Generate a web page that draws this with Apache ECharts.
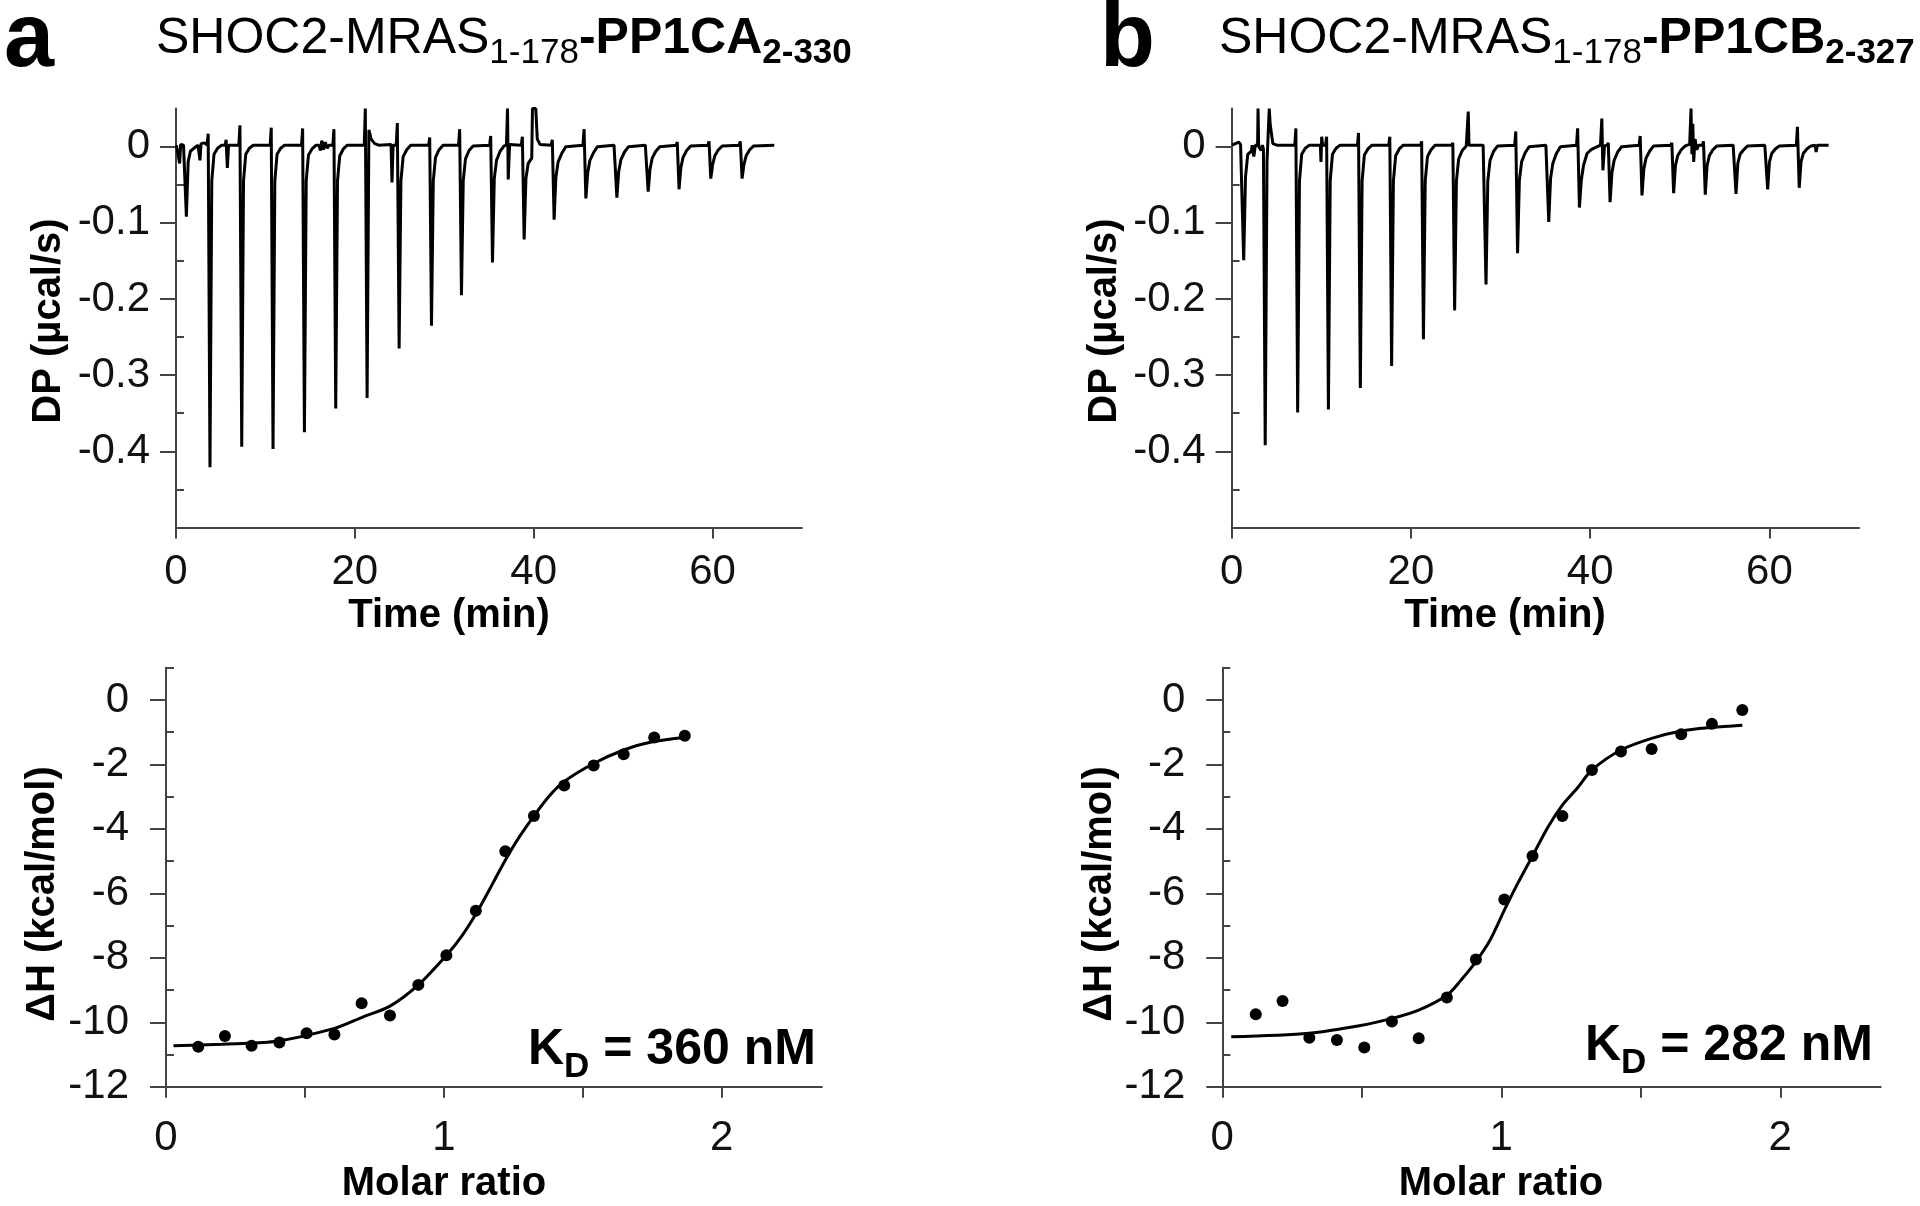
<!DOCTYPE html>
<html>
<head>
<meta charset="utf-8">
<script src="https://cdn.jsdelivr.net/npm/echarts@6/dist/echarts.min.js"></script>
<style>
html, body { margin: 0; padding: 0; background: #fff; }
#main { width: 1920px; height: 1206px; }
</style>
</head>
<body>
<div id="main"></div>
<script>
// ---- thermogram (DP vs time), panel a ----
var injTimeA = [1.16, 3.8, 7.35, 10.85, 14.36, 17.86, 21.37, 24.95, 28.57, 31.92, 35.39, 38.93, 42.28, 45.83, 49.3, 52.8, 56.25, 59.8, 63.3];
var injMinA = [-0.092, -0.421, -0.394, -0.397, -0.375, -0.344, -0.330, -0.265, -0.235, -0.195, -0.152, -0.122, -0.096, -0.068, -0.067, -0.059, -0.056, -0.042, -0.042];
var preSpikeA = [0.004, 0.017, 0.028, 0.025, 0.024, 0.023, 0.05, 0.031, 0.012, 0.023, 0.014, 0.013, 0.009, 0.023, 0.004, 0.004, 0.006, 0.007, 0.007];
// recovery after each dip, read at +0.2, +0.45, +0.85, +1.3 min
var recoveryA = [
  [-0.02, -0.006, -0.002, 0.002], [-0.045, -0.01, -0.002, 0.002], [-0.045, -0.01, -0.002, 0.002],
  [-0.045, -0.01, -0.002, 0.002], [-0.045, -0.011, -0.003, 0.002], [-0.045, -0.012, -0.003, 0.002],
  [0.022, 0.01, 0.004, 0.002], [-0.045, -0.013, -0.004, 0.002], [-0.045, -0.014, -0.004, 0.002],
  [-0.045, -0.016, -0.005, 0.001], [-0.042, -0.018, -0.006, 0.001], [-0.042, -0.022, -0.015, 0.05],
  [-0.04, -0.02, -0.009, 0.0], [-0.035, -0.018, -0.008, 0.0], [-0.033, -0.017, -0.007, 0.0],
  [-0.03, -0.015, -0.006, 0.0], [-0.028, -0.014, -0.005, 0.001], [-0.024, -0.012, -0.004, 0.001],
  [-0.024, -0.012, -0.004, 0.001]
];
// small artefacts / noise spikes between injections
var noiseA = [
  [0.41, -0.022], [0.52, 0.003], [0.7, 0.004],
  [2.55, 0.002], [2.68, -0.018], [2.8, 0.004], [3.2, 0.005],
  [5.5, 0.002], [5.6, 0.009], [5.74, -0.028], [5.88, 0.002],
  [16.0, 0.002], [16.15, -0.005], [16.3, 0.008], [16.5, -0.004], [16.7, 0.006], [16.9, -0.002], [17.1, 0.002],
  [24.05, 0.003], [24.15, -0.047], [24.28, 0.002],
  [36.95, 0.002], [37.07, 0.05], [37.15, -0.043], [37.3, 0.003],
  [39.86, 0.05], [40.4, 0.01], [40.7, 0.003]
];
var endTimeA = 66.9;

// ---- thermogram, panel b ----
var injTimeB = [1.35, 3.75, 7.37, 10.8, 14.36, 17.85, 21.4, 24.88, 28.38, 31.9, 35.38, 38.8, 42.22, 45.78, 49.31, 52.84, 56.27, 59.8, 63.32];
var injMinB = [-0.149, -0.392, -0.349, -0.345, -0.317, -0.288, -0.253, -0.215, -0.181, -0.14, -0.099, -0.08, -0.073, -0.064, -0.061, -0.063, -0.062, -0.056, -0.054];
var preSpikeB = [0.004, -0.003, 0.024, 0.013, 0.018, 0.013, 0.007, 0.005, 0.004, 0.02, 0.004, 0.024, 0.005, 0.014, 0.005, 0.007, 0.004, 0.004, 0.026];
var recoveryB = [
  [-0.04, -0.01, -0.006, 0.002], [-0.02, 0.05, 0.004, 0.002], [-0.045, -0.01, -0.002, 0.002],
  [-0.045, -0.01, -0.002, 0.002], [-0.045, -0.011, -0.003, 0.002], [-0.045, -0.012, -0.003, 0.002],
  [-0.045, -0.013, -0.004, 0.002], [-0.045, -0.016, -0.005, 0.001], [-0.045, -0.018, -0.006, 0.001],
  [-0.045, -0.02, -0.008, 0.0], [-0.042, -0.022, -0.009, 0.0], [-0.045, -0.025, -0.009, -0.004],
  [-0.035, -0.018, -0.007, 0.0], [-0.03, -0.015, -0.006, 0.001], [-0.025, -0.012, -0.004, 0.001],
  [-0.025, -0.012, -0.004, 0.001], [-0.022, -0.01, -0.004, 0.001], [-0.02, -0.009, -0.003, 0.001],
  [-0.02, -0.009, -0.003, 0.001]
];
var noiseB = [
  [0.8, 0.006], [1.0, 0.003],
  [2.3, 0.002], [2.48, -0.013], [2.9, 0.002], [2.95, 0.05], [3.02, 0.0], [3.3, -0.005], [3.45, 0.002],
  [4.3, 0.03],
  [9.9, 0.002], [9.97, -0.02], [10.05, 0.013], [10.15, 0.002],
  [26.3, 0.002], [26.4, 0.046], [26.48, 0.002],
  [41.15, 0.002], [41.3, 0.037], [41.42, -0.031], [41.6, 0.001],
  [51.1, 0.003], [51.25, 0.05], [51.35, -0.01], [51.45, 0.03], [51.55, -0.02], [51.7, 0.01], [51.9, -0.004], [52.1, 0.002],
  [65.1, 0.002], [65.2, -0.007], [65.35, 0.002]
];
var endTimeB = 66.6;
var baseline = 0.002;

// ---- integrated heats ----
var ratioA = [0.116, 0.212, 0.308, 0.408, 0.506, 0.606, 0.704, 0.806, 0.908, 1.009, 1.115, 1.221, 1.324, 1.433, 1.539, 1.647, 1.757, 1.867];
var heatA = [-10.76, -10.43, -10.73, -10.63, -10.34, -10.38, -9.41, -9.79, -8.84, -7.92, -6.54, -4.69, -3.60, -2.65, -2.03, -1.68, -1.16, -1.11];
var fitRatioA = [0.027, 0.2, 0.389, 0.606, 0.71, 0.806, 0.908, 1.009, 1.063, 1.12, 1.176, 1.221, 1.272, 1.324, 1.377, 1.433, 1.539, 1.647, 1.754, 1.867];
var fitHeatA = [-10.73, -10.68, -10.6, -10.19, -9.83, -9.5, -8.84, -7.92, -7.34, -6.57, -5.69, -4.97, -4.24, -3.6, -3.0, -2.53, -1.97, -1.55, -1.29, -1.16];

var ratioB = [0.12, 0.216, 0.312, 0.411, 0.509, 0.608, 0.704, 0.805, 0.909, 1.011, 1.112, 1.219, 1.325, 1.429, 1.539, 1.645, 1.755, 1.864];
var heatB = [-9.75, -9.34, -10.48, -10.55, -10.78, -9.98, -10.5, -9.23, -8.05, -6.19, -4.84, -3.6, -2.17, -1.6, -1.52, -1.06, -0.74, -0.31];
var fitRatioB = [0.032, 0.312, 0.496, 0.608, 0.704, 0.805, 0.856, 0.909, 0.96, 1.011, 1.059, 1.112, 1.168, 1.219, 1.272, 1.325, 1.429, 1.539, 1.645, 1.755, 1.864];
var fitHeatB = [-10.45, -10.34, -10.1, -9.88, -9.62, -9.16, -8.69, -8.12, -7.45, -6.52, -5.69, -4.84, -3.93, -3.26, -2.74, -2.17, -1.55, -1.19, -0.96, -0.85, -0.78];

// ---- ticks ----
var timeTicks = [0, 20, 40, 60];
var dpTicks = [0, -0.1, -0.2, -0.3, -0.4];
var dpMinorTicks = [-0.05, -0.15, -0.25, -0.35, -0.45];
var ratioTicks = [0, 0.5, 1, 1.5, 2];
var ratioLabels = [0, 1, 2];
var heatTicks = [0, -2, -4, -6, -8, -10, -12];
var heatMinorTicks = [1, -1, -3, -5, -7, -9, -11];

var FONT = '"Liberation Sans", Arial, Helvetica, sans-serif';
var axisColor = '#444';
var tickFont = 42;

function buildTrace(times, mins, pre, rec, noise, tEnd) {
  var pts = [[0.05, baseline]];
  for (var i = 0; i < times.length; i++) {
    var t = times[i];
    pts.push([t - 0.32, baseline], [t - 0.2, pre[i]], [t, mins[i]],
      [t + 0.2, rec[i][0]], [t + 0.45, rec[i][1]], [t + 0.85, rec[i][2]], [t + 1.3, rec[i][3]]);
  }
  pts = pts.concat(noise);
  pts.push([tEnd, baseline]);
  pts.sort(function (a, b) { return a[0] - b[0]; });
  return pts;
}

function zip(xs, ys) {
  return xs.map(function (x, i) { return [x, ys[i]]; });
}

function xAxis(gi, max, ticks, labels, margin) {
  return {
    type: 'value', gridIndex: gi, min: 0, max: max,
    axisLine: { onZero: false, lineStyle: { color: axisColor, width: 2 } },
    axisTick: { customValues: ticks, length: 11, lineStyle: { color: axisColor, width: 2 } },
    axisLabel: { customValues: labels, margin: margin, fontSize: tickFont, color: '#111', fontFamily: FONT },
    splitLine: { show: false }
  };
}

function yAxis(gi, min, max, ticks, margin) {
  return {
    type: 'value', gridIndex: gi, min: min, max: max,
    axisLine: { show: true, onZero: false, lineStyle: { color: axisColor, width: 2 } },
    axisTick: { customValues: ticks, length: 16, lineStyle: { color: axisColor, width: 2 } },
    axisLabel: {
      customValues: ticks, margin: margin, fontSize: tickFont, color: '#111', fontFamily: FONT,
      formatter: function (v) { return String(v); }
    },
    splitLine: { show: false }
  };
}

function yMinor(gi, min, max, ticks) {
  return {
    type: 'value', gridIndex: gi, min: min, max: max,
    axisLine: { show: false },
    axisTick: { customValues: ticks, length: 8, lineStyle: { color: axisColor, width: 2 } },
    axisLabel: { show: false },
    splitLine: { show: false }
  };
}

var measure = document.createElement('canvas').getContext('2d');
function textRun(parts, x) {
  var out = [];
  parts.forEach(function (p) {
    measure.font = p.font;
    out.push({
      type: 'text', x: x, y: p.y,
      style: { text: p.text, font: p.font, fill: '#000', textAlign: 'left', textVerticalAlign: 'middle' }
    });
    x += measure.measureText(p.text).width;
  });
  return out;
}

function label(text, x, y, size, rotate) {
  return {
    type: 'text', x: x, y: y, rotation: rotate ? Math.PI / 2 : 0,
    style: { text: text, font: 'bold ' + size + 'px ' + FONT, fill: '#000', textAlign: 'center', textVerticalAlign: 'middle' }
  };
}

var reg = function (s) { return s + 'px ' + FONT; };
var bold = function (s) { return 'bold ' + s + 'px ' + FONT; };

var graphics = []
  .concat([
    { type: 'text', x: 4, y: 41, style: { text: 'a', font: bold(90), fill: '#000', textVerticalAlign: 'middle' } },
    { type: 'text', x: 1100, y: 41, style: { text: 'b', font: bold(90), fill: '#000', textVerticalAlign: 'middle' } }
  ])
  .concat(textRun([
    { text: 'SHOC2-MRAS', font: reg(50), y: 39 },
    { text: '1-178', font: reg(35), y: 53 },
    { text: '-PP1CA', font: bold(50), y: 39 },
    { text: '2-330', font: bold(35), y: 53 }
  ], 156))
  .concat(textRun([
    { text: 'SHOC2-MRAS', font: reg(50), y: 39 },
    { text: '1-178', font: reg(35), y: 53 },
    { text: '-PP1CB', font: bold(50), y: 39 },
    { text: '2-327', font: bold(35), y: 53 }
  ], 1219))
  .concat([
    label('DP (µcal/s)', 49, 321, 40, true),
    label('DP (µcal/s)', 1105, 321, 40, true),
    label('Time (min)', 449, 616, 40),
    label('Time (min)', 1505, 616, 40),
    label('ΔH (kcal/mol)', 43, 894, 40, true),
    label('ΔH (kcal/mol)', 1100, 894, 40, true),
    label('Molar ratio', 444, 1184, 40),
    label('Molar ratio', 1501, 1184, 40)
  ])
  .concat(textRun([
    { text: 'K', font: bold(50), y: 1050 },
    { text: 'D', font: bold(35), y: 1067 },
    { text: ' = 360 nM', font: bold(50), y: 1050 }
  ], 528))
  .concat(textRun([
    { text: 'K', font: bold(50), y: 1046 },
    { text: 'D', font: bold(35), y: 1063 },
    { text: ' = 282 nM', font: bold(50), y: 1046 }
  ], 1585));

var chart = echarts.init(document.getElementById('main'), null, { renderer: 'canvas' });

chart.setOption({
  animation: false,
  backgroundColor: '#fff',
  textStyle: { fontFamily: FONT },
  grid: [
    { left: 176, top: 108.6, width: 626, height: 418.8, containLabel: false, outerBoundsMode: 'none' },
    { left: 1231.6, top: 108.6, width: 627.5, height: 418.8, containLabel: false, outerBoundsMode: 'none' },
    { left: 166, top: 667.8, width: 655.8, height: 418.9, containLabel: false, outerBoundsMode: 'none' },
    { left: 1222.3, top: 667.8, width: 658.4, height: 418.9, containLabel: false, outerBoundsMode: 'none' }
  ],
  xAxis: [
    xAxis(0, 70, timeTicks, timeTicks, 24),
    xAxis(1, 70, timeTicks, timeTicks, 24),
    xAxis(2, 2.36, ratioTicks, ratioLabels, 31),
    xAxis(3, 2.36, ratioTicks, ratioLabels, 31)
  ],
  yAxis: [
    yAxis(0, -0.5, 0.05, dpTicks, 26),
    yAxis(1, -0.5, 0.05, dpTicks, 26),
    yAxis(2, -12, 1, heatTicks, 37),
    yAxis(3, -12, 1, heatTicks, 37),
    yMinor(0, -0.5, 0.05, dpMinorTicks),
    yMinor(1, -0.5, 0.05, dpMinorTicks),
    yMinor(2, -12, 1, heatMinorTicks),
    yMinor(3, -12, 1, heatMinorTicks)
  ],
  graphic: graphics,
  series: [
    {
      type: 'line', xAxisIndex: 0, yAxisIndex: 0, showSymbol: false,
      data: buildTrace(injTimeA, injMinA, preSpikeA, recoveryA, noiseA, endTimeA),
      lineStyle: { color: '#000', width: 3 }
    },
    {
      type: 'line', xAxisIndex: 1, yAxisIndex: 1, showSymbol: false,
      data: buildTrace(injTimeB, injMinB, preSpikeB, recoveryB, noiseB, endTimeB),
      lineStyle: { color: '#000', width: 3 }
    },
    {
      type: 'line', xAxisIndex: 2, yAxisIndex: 2, showSymbol: false, smooth: 0.3,
      data: zip(fitRatioA, fitHeatA), lineStyle: { color: '#000', width: 3 }
    },
    {
      type: 'scatter', xAxisIndex: 2, yAxisIndex: 2, symbolSize: 12,
      data: zip(ratioA, heatA), itemStyle: { color: '#000', opacity: 1 }
    },
    {
      type: 'line', xAxisIndex: 3, yAxisIndex: 3, showSymbol: false, smooth: 0.3,
      data: zip(fitRatioB, fitHeatB), lineStyle: { color: '#000', width: 3 }
    },
    {
      type: 'scatter', xAxisIndex: 3, yAxisIndex: 3, symbolSize: 12,
      data: zip(ratioB, heatB), itemStyle: { color: '#000', opacity: 1 }
    }
  ]
});
</script>
</body>
</html>
